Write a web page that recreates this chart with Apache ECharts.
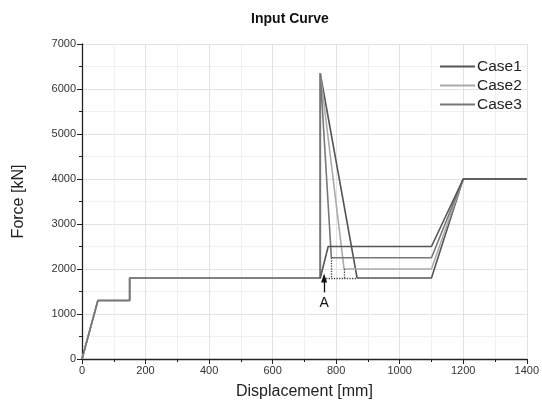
<!DOCTYPE html>
<html>
<head>
<meta charset="utf-8">
<script src="https://cdn.jsdelivr.net/npm/echarts@6/dist/echarts.min.js"></script>
<style>
  html, body { margin: 0; padding: 0; background: #fff; }
  #chart { width: 542px; height: 411px; }
</style>
</head>
<body>
<div id="chart"></div>
<script>
  // values
  var case1X = [0, 50, 150, 150, 750, 750, 866, 1100, 1200, 1400];
  var case1Y = [0, 1300, 1300, 1800, 1800, 6350, 1800, 1800, 4000, 4000];
  var case2X = [0, 50, 150, 150, 750, 750, 825, 1100, 1200, 1400];
  var case2Y = [0, 1300, 1300, 1800, 1800, 6350, 2000, 2000, 4000, 4000];
  var case3X = [0, 50, 150, 150, 750, 750, 785, 1100, 1200, 1400];
  var case3Y = [0, 1300, 1300, 1800, 1800, 6350, 2250, 2250, 4000, 4000];
  // plateau branch without the peak
  var rampX = [750, 775, 1100, 1200, 1400];
  var rampY = [1800, 2500, 2500, 4000, 4000];
  // dotted helper lines [x1, y1, x2, y2]
  var dotted = [
    [760, 1800, 866, 1800],
    [785, 2250, 785, 1800],
    [825, 2000, 825, 1800]
  ];
  var pointA = { x: 762, yFrom: 1480, yTo: 1800, label: 'A' };

  function pairs(xs, ys) {
    return xs.map(function (x, i) { return [x, ys[i]]; });
  }
  function plain(v) { return String(v); }

  var font = 'Liberation Sans, Arial, sans-serif';

  var option = {
    animation: false,
    textStyle: { fontFamily: font },
    title: {
      text: 'Input Curve',
      left: 285,
      top: 7,
      textAlign: 'center',
      textStyle: { fontSize: 14, fontWeight: 'bold', color: '#111', fontFamily: font }
    },
    legend: {
      orient: 'vertical',
      left: 435,
      top: 53,
      icon: 'rect',
      itemWidth: 35,
      itemHeight: 2,
      itemGap: 2,
      data: ['Case1', 'Case2', 'Case3'],
      textStyle: { fontSize: 15.5, lineHeight: 17, color: '#222', fontFamily: font, padding: [0, 0, 0, -3] }
    },
    grid: { left: 82, right: 13, top: 44, bottom: 52 },
    xAxis: {
      type: 'value',
      min: 0,
      max: 1400,
      interval: 200,
      name: 'Displacement [mm]',
      nameLocation: 'middle',
      nameGap: 25,
      nameTextStyle: { fontSize: 16, color: '#222' },
      axisLine: { onZero: false, lineStyle: { color: '#222', width: 1.3 } },
      axisTick: { length: 5, lineStyle: { color: '#222' } },
      minorTick: { show: true, splitNumber: 2, length: 3, lineStyle: { color: '#222' } },
      axisLabel: { fontSize: 11, color: '#333', margin: 6, formatter: plain },
      splitLine: { show: true, lineStyle: { color: '#e2e2e2' } },
      minorSplitLine: { show: true, lineStyle: { color: '#f0f0f0' } }
    },
    yAxis: {
      type: 'value',
      min: 0,
      max: 7000,
      interval: 1000,
      name: 'Force [kN]',
      nameLocation: 'middle',
      nameGap: 55,
      nameTextStyle: { fontSize: 16, color: '#222' },
      axisLine: { show: true, onZero: false, lineStyle: { color: '#222', width: 1.3 } },
      axisTick: { show: true, length: 5, lineStyle: { color: '#222' } },
      minorTick: { show: true, splitNumber: 2, length: 3, lineStyle: { color: '#222' } },
      axisLabel: { fontSize: 11, color: '#333', margin: 6, formatter: plain },
      splitLine: { show: true, lineStyle: { color: '#e2e2e2' } },
      minorSplitLine: { show: true, lineStyle: { color: '#f0f0f0' } }
    },
    series: [
      {
        name: 'Case1', type: 'line', symbol: 'none',
        data: pairs(case1X, case1Y),
        itemStyle: { color: '#555' },
        lineStyle: { color: '#555', width: 1.6 }
      },
      {
        name: 'Case2', type: 'line', symbol: 'none',
        data: pairs(case2X, case2Y),
        itemStyle: { color: '#aaa' },
        lineStyle: { color: '#aaa', width: 1.6 }
      },
      {
        name: 'Case3', type: 'line', symbol: 'none',
        data: pairs(case3X, case3Y),
        itemStyle: { color: '#777' },
        lineStyle: { color: '#777', width: 1.6 }
      },
      {
        name: 'ramp', type: 'line', symbol: 'none',
        data: pairs(rampX, rampY),
        itemStyle: { color: '#555' },
        lineStyle: { color: '#555', width: 1.6 },
        markLine: {
          silent: true,
          animation: false,
          data: dotted.map(function (d) {
            return [
              { coord: [d[0], d[1]], symbol: 'none', lineStyle: { type: 'dotted', color: '#444', width: 1.3 }, label: { show: false } },
              { coord: [d[2], d[3]], symbol: 'none' }
            ];
          }).concat([[
            {
              coord: [pointA.x, pointA.yFrom], symbol: 'none',
              lineStyle: { type: 'solid', color: '#111', width: 1.3 },
              label: { show: true, position: 'start', formatter: pointA.label, fontSize: 14, color: '#111', distance: 4 }
            },
            { coord: [pointA.x, pointA.yTo], symbol: 'triangle', symbolSize: [6, 9] }
          ]])
        }
      }
    ]
  };

  var myChart = echarts.init(document.getElementById('chart'));
  myChart.setOption(option);
</script>
</body>
</html>
